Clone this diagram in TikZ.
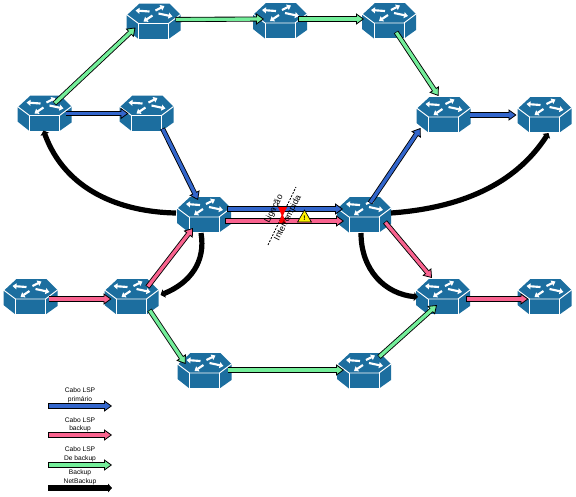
\documentclass[tikz,border=0pt]{standalone}
\usepackage{fontspec}
\setmainfont{Liberation Sans}
\usepackage{xcolor}
\usetikzlibrary{arrows.meta, shapes.geometric}
\definecolor{rtblue}{HTML}{1C6E9F}
\definecolor{lspblue}{HTML}{3366CC}
\definecolor{lsppink}{HTML}{F9638F}
\definecolor{lspgreen}{HTML}{74EE9A}
\tikzset{
  rtbox/.style={minimum width=41pt, minimum height=26pt, inner sep=0pt},
  rtmark/.style={white, line width=1.6pt, -{Triangle[length=3pt, width=4.4pt]}},
  rtedge/.style={white, line width=0.7pt},
  lsp/.style={line width=3.8pt, draw=black,
    -{Triangle[length=6pt, width=8.5pt, fill=#1, line width=0.6pt]},
    postaction={draw=#1, line width=2.5pt, -, shorten >=5pt, shorten <=0.5pt}},
  bak/.style={line width=3.9pt, black, -{Triangle[length=3pt, width=6.5pt]}},
  keytext/.style={font=\fontsize{5}{6}\selectfont, align=center},
  cuttext/.style={font=\fontsize{6.6}{7}\selectfont, rotate=63, inner sep=0pt},
  routerpic/.pic={
    \fill[rtblue] (-14,-18) -- (16,-18) -- (27,-7) -- (27,9) -- (15,17.5) -- (-15,17.5) -- (-27,8) -- (-27,-6) -- cycle;
    \draw[rtedge] (-27,-7) -- (-15,2) -- (15,2) -- (27,-7);
    \draw[rtedge] (-15,2) -- (-15,17.5) -- (15,17.5) -- (15,2);
    \draw[rtmark] (-4,-10) -- (-18,-11);
    \draw[rtmark] (2,-11) -- (11,-15.5);
    \draw[rtmark] (-1,-6) -- (-10,0);
    \draw[rtmark] (5,-8) -- (19,-5);
  },
}
\newcommand{\router}[2]{
  \node[rtbox] (#1) at (#2) {};
  \pic at (#1.center) {routerpic};
}
\begin{document}
\begin{tikzpicture}[x=0.75pt, y=-0.75pt]
\useasboundingbox (0,0) rectangle (576,497);
% routers
\router{top1}{153.5,21.5}
\router{top2}{280,21}
\router{top3}{389,21}
\router{upl1}{44.5,113.5}
\router{upl2}{146.5,113.5}
\router{upr1}{443.5,115}
\router{upr2}{544.5,115}
\router{midl}{204,215}
\router{midr}{364,215}
\router{lowl1}{30.5,297}
\router{lowl2}{131.5,297}
\router{lowr1}{443,297}
\router{lowr2}{544.5,297}
\router{botl}{204.5,371}
\router{botr}{364,371}
% backup tunnels
\draw[bak] ([shift={(-28,-2)}]midl.center) .. controls (120,212) and (65,190) .. ([shift={(-1,17)}]upl1.center);
\draw[bak] ([shift={(27,-2)}]midr.center) .. controls (460,208) and (515,185) .. ([shift={(4,18)}]upr2.center);
\draw[bak] ([shift={(-3,18)}]midl.center) .. controls (206,262) and (190,283) .. ([shift={(29,-2)}]lowl2.center);
\draw[bak] ([shift={(-3,18)}]midr.center) .. controls (361,270) and (385,294) .. ([shift={(-25,0)}]lowr1.center);
% green path
\draw[lsp=lspgreen] ([shift={(10,-10)}]upl1.center) -- ([shift={(-18,6)}]top1.center);
\draw[lsp=lspgreen] ([shift={(22,-2)}]top1.center) -- ([shift={(-16,-2)}]top2.center);
\draw[lsp=lspgreen] ([shift={(18,-2)}]top2.center) -- ([shift={(-25,-2)}]top3.center);
\draw[lsp=lspgreen] ([shift={(7,11)}]top3.center) -- ([shift={(-5,-19)}]upr1.center);
\draw[lsp=lspgreen] ([shift={(18,13)}]lowl2.center) -- ([shift={(-19,-7)}]botl.center);
\draw[lsp=lspgreen] ([shift={(23,-1)}]botl.center) -- ([shift={(-20,-1)}]botr.center);
\draw[lsp=lspgreen] ([shift={(15,-14)}]botr.center) -- ([shift={(-6,8)}]lowr1.center);
% blue path
\draw[lsp=lspblue] ([shift={(21,0)}]upl1.center) -- ([shift={(-18,0)}]upl2.center);
\draw[lsp=lspblue] ([shift={(16,15)}]upl2.center) -- ([shift={(-6,-15)}]midl.center);
\draw[lsp=lspblue] ([shift={(23,-6)}]midl.center) -- ([shift={(-21,-6)}]midr.center);
\draw[lsp=lspblue] ([shift={(6,-12)}]midr.center) -- ([shift={(-23,13)}]upr1.center);
\draw[lsp=lspblue] ([shift={(26,0)}]upr1.center) -- ([shift={(-28,0)}]upr2.center);
% pink path
\draw[lsp=lsppink] ([shift={(18,2)}]lowl1.center) -- ([shift={(-20,2)}]lowl2.center);
\draw[lsp=lsppink] ([shift={(16,-10)}]lowl2.center) -- ([shift={(-11,13)}]midl.center);
\draw[lsp=lsppink] ([shift={(21,6)}]midl.center) -- ([shift={(-20,6)}]midr.center);
\draw[lsp=lsppink] ([shift={(21,7)}]midr.center) -- ([shift={(-11,-19)}]lowr1.center);
\draw[lsp=lsppink] ([shift={(23,2)}]lowr1.center) -- ([shift={(-16,2)}]lowr2.center);
% cut link
\coordinate (cuta) at (268,245);
\coordinate (cutb) at (296,187);
\draw[dash pattern=on 1.5pt off 1pt, line width=0.6pt] (cuta) -- (cutb);
\fill[red] (278,207) -- (287,207) -- (283,215) -- (286,223) -- (279,223) -- (281.5,215) -- cycle;
\node[cuttext] (cutl) at (274,209) {Ligação};
\node[cuttext] (cutr) at (288,218) {Interrompida};
\node[regular polygon, regular polygon sides=3, draw=black, fill=yellow, line width=0.5pt, inner sep=0pt,
  minimum size=12pt, font=\fontsize{5}{5}\selectfont\bfseries] (warn) at (304.5,218) {!};
% key
\foreach \keyname/\keyy/\keycol in {a/406/lspblue, b/435/lsppink, c/465/lspgreen}{
  \coordinate (key\keyname l) at (48,\keyy);
  \coordinate (key\keyname r) at (112,\keyy);
  \draw[lsp=\keycol] (key\keyname l) -- (key\keyname r);
}
\coordinate (keydl) at (48,488);
\coordinate (keydr) at (112,488);
\draw[bak] (keydl) -- (keydr);
\node[keytext] (keya1) at (80,390) {Cabo LSP};
\node[keytext] (keya2) at (80,400) {primário};
\node[keytext] (keyb1) at (80,420) {Cabo LSP};
\node[keytext] (keyb2) at (80,429) {backup};
\node[keytext] (keyc1) at (80,449) {Cabo LSP};
\node[keytext] (keyc2) at (80,459) {De backup};
\node[keytext] (keyd1) at (80,473) {Backup};
\node[keytext] (keyd2) at (80,482) {NetBackup};
\end{tikzpicture}
\end{document}
